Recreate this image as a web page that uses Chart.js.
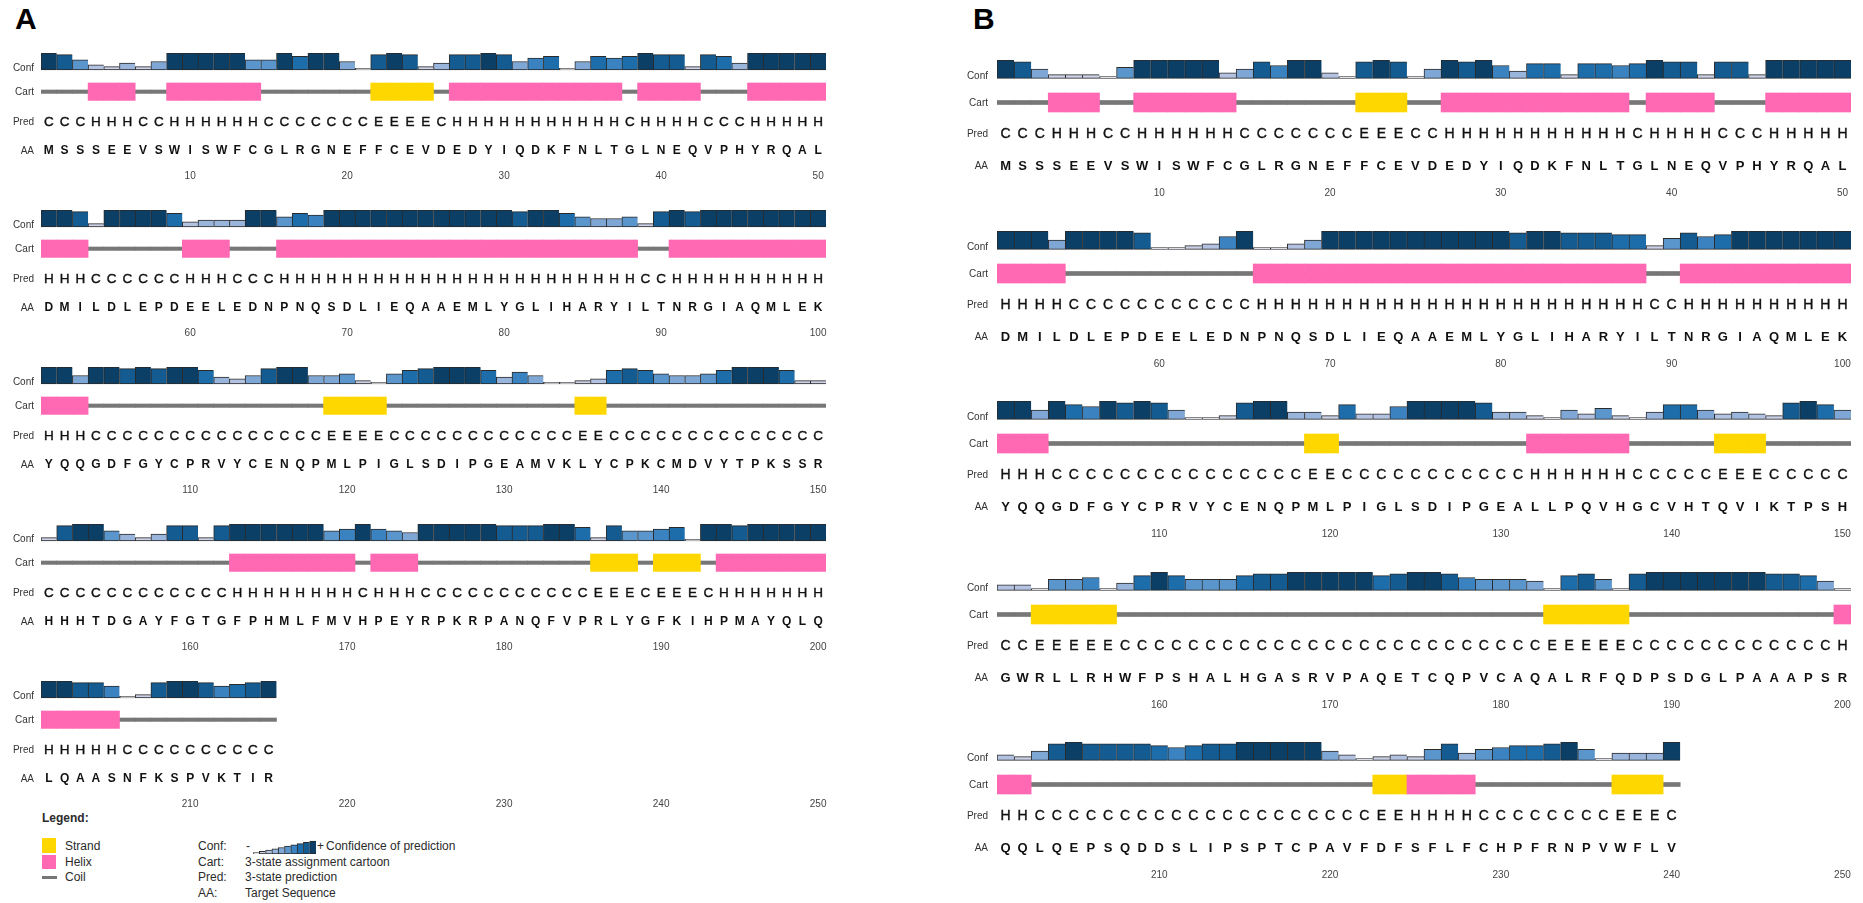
<!DOCTYPE html>
<html>
<head>
<meta charset="utf-8">
<script src="https://cdn.jsdelivr.net/npm/chart.js@4.4.1/dist/chart.umd.min.js"></script>
<style>
body { margin:0; background:#fff; }
#page { position:relative; width:1863px; height:903px; overflow:hidden; background:#fff;
  font-family:'Liberation Sans',Arial,sans-serif; color:#2b2b2b; }
.lab { position:absolute; white-space:nowrap; height:16px; line-height:16px; font-size:12px; }
.panel { position:absolute; font-family:'Liberation Sans',Arial,sans-serif; font-weight:bold;
  font-size:30px; line-height:30px; color:#000; }
.sw { position:absolute; }
</style>
</head>
<body>
<div id="page">
  <div class="panel" style="left:15px;top:4px">A</div>
  <div class="panel" style="left:973px;top:4px">B</div>

  <div class="lab" style="left:42px;top:810px;font-weight:bold">Legend:</div>
  <div class="sw" style="left:42px;top:838px;width:14px;height:15px;background:#ffd700"></div>
  <div class="sw" style="left:42px;top:855px;width:14px;height:14px;background:#ff69b4"></div>
  <div class="sw" style="left:42px;top:876px;width:15px;height:3px;background:#777"></div>
  <div class="lab" style="left:65px;top:838px">Strand</div>
  <div class="lab" style="left:65px;top:854px">Helix</div>
  <div class="lab" style="left:65px;top:869px">Coil</div>
  <div class="lab" style="left:198px;top:838px">Conf:</div>
  <div class="lab" style="left:198px;top:854px">Cart:</div>
  <div class="lab" style="left:198px;top:869px">Pred:</div>
  <div class="lab" style="left:198px;top:885px">AA:</div>
  <div class="lab" style="left:246px;top:838px">-</div>
  <div class="lab" style="left:317px;top:838px">+</div>
  <div class="lab" style="left:326px;top:838px">Confidence of prediction</div>
  <div class="lab" style="left:245px;top:854px">3-state assignment cartoon</div>
  <div class="lab" style="left:245px;top:869px">3-state prediction</div>
  <div class="lab" style="left:245px;top:885px">Target Sequence</div>
</div>
<script>
const aaA = [
  'MSSSEEVSWISWFCGLRGNEFFCEVDEDYIQDKFNLTGLNEQVPHYRQAL',
  'DMILDLEPDEELEDNPNQSDLIEQAAEMLYGLIHARYILTNRGIAQMLEK',
  'YQQGDFGYCPRVYCENQPMLPIGLSDIPGEAMVKLYCPKCMDVYTPKSSR',
  'HHHTDGAYFGTGFPHMLFMVHPEYRPKRPANQFVPRLYGFKIHPMAYQLQ',
  'LQAASNFKSPVKTIR'
];
const predA = [
  'CCCHHHCCHH' + 'HHHHCCCCCC' + 'CEEEECHHHH' + 'HHHHHHHCHH' + 'HHCCCHHHHH',
  'HHHCCCCCCH' + 'HHCCCHHHHH' + 'HHHHHHHHHH' + 'HHHHHHHHCC' + 'HHHHHHHHHH',
  'HHHCCCCCCC' + 'CCCCCCCCEE' + 'EECCCCCCCC' + 'CCCCEECCCC' + 'CCCCCCCCCC',
  'CCCCCCCCCC' + 'CCHHHHHHHH' + 'CHHHCCCCCC' + 'CCCCCEEECE' + 'EECHHHHHHH',
  'HHHHHCCCCC' + 'CCCCC'
];
const confA1 = [9,8,5,2,1,3,1,4,9,9, 9,9,9,5,5,9,7,9,9,4, 0,8,9,8,1,3,8,8,9,8, 4,6,7,0,4,7,6,7,9,8, 8,1,8,7,3,9,9,9,9,9];
const confA2 = [9,9,8,1,9,9,9,9,7,2, 3,3,3,9,9,5,7,6,9,9, 9,9,9,9,9,9,9,9,9,9, 8,9,9,7,5,4,4,5,1,8, 9,8,9,9,9,9,9,9,9,9];
const confA3 = [9,9,4,9,9,8,9,8,9,9, 7,3,2,4,8,9,9,4,4,5, 1,0,5,7,8,9,9,9,7,3, 6,4,0,0,1,2,7,8,7,5, 4,4,5,7,9,9,9,7,1,1];
const confA4 = [1,8,9,9,5,3,1,3,8,8, 1,8,9,9,9,9,9,9,5,6, 9,6,5,4,9,9,9,9,9,8, 8,8,9,9,7,1,8,5,5,6, 7,0,9,9,8,9,9,9,9,9];
const confA5 = [9,9,8,8,6,0,1,8,9,9, 8,6,7,8,9];

const aaB = [
  'MSSSEEVSWISWFCGLRGNEFFCEVDEDYIQDKFNLTGLNEQVPHYRQAL',
  'DMILDLEPDEELEDNPNQSDLIEQAAEMLYGLIHARYILTNRGIAQMLEK',
  'YQQGDFGYCPRVYCENQPMLPIGLSDIPGEALLPQVHGCVHTQVIKTPSH',
  'GWRLLRHWFPSHALHGASRVPAQETCQPVCAQALRFQDPSDGLPAAAPSR',
  'QQLQEPSQDDSLIPSPTCPAVFDFSFLFCHPFRNPVWFLV'
];
const predB = [
  'CCCHHHCCHH' + 'HHHHCCCCCC' + 'CEEECCHHHH' + 'HHHHHHHCHH' + 'HHCCCHHHHH',
  'HHHHCCCCCC' + 'CCCCCHHHHH' + 'HHHHHHHHHH' + 'HHHHHHHHCC' + 'HHHHHHHHHH',
  'HHHCCCCCCC' + 'CCCCCCCCEE' + 'CCCCCCCCCC' + 'CHHHHHHCCC' + 'CCEEECCCCC',
  'CCEEEEECCC' + 'CCCCCCCCCC' + 'CCCCCCCCCC' + 'CCEEEEECCC' + 'CCCCCCCCCH',
  'HHCCCCCCCC' + 'CCCCCCCCCC' + 'CCEEHHHHCC' + 'CCCCCCEEEC'
];
const confB1 = [9,8,4,1,1,1,0,5,9,9, 9,9,9,2,4,8,6,9,9,2, 0,8,9,8,0,4,9,8,9,6, 3,7,7,1,7,7,6,7,9,8, 8,1,8,8,1,9,9,9,9,9];
const confB2 = [9,9,9,4,9,9,9,9,8,0, 0,1,2,6,9,0,0,2,4,9, 9,9,9,9,9,9,9,9,9,9, 8,9,9,8,8,8,7,7,1,5, 8,6,7,9,9,9,9,9,9,9];
const confB3 = [9,9,4,9,7,6,9,8,9,8, 4,0,0,1,8,9,9,3,3,1, 7,2,2,6,9,9,9,9,8,3, 3,1,0,4,2,5,1,0,3,7, 7,4,2,3,2,1,8,9,7,4];
const confB4 = [2,2,0,5,5,6,0,3,7,9, 7,5,5,5,7,8,8,9,9,9, 9,9,7,8,9,9,8,6,5,5, 5,4,0,7,8,5,0,8,9,9, 9,9,9,9,9,8,8,7,4,0];
const confB5 = [2,1,4,8,9,8,8,8,8,7, 6,7,8,8,9,9,9,9,9,4, 2,0,1,2,1,5,8,3,5,6, 7,7,8,9,5,0,3,3,3,9];

const confLevels = [0,1,2,3,4,5,6,7,8,9];
const confColors = ['#e6e7f0','#cbd1e6','#b3c2e1','#99b5dc','#7ea7d5','#5a95cb','#3a83c0','#1d6dab','#135b90','#0b3f66'];

const FONT = "'Liberation Sans Narrow','Liberation Sans',Arial,sans-serif";
const LETTERS = "'Liberation Sans',Arial,sans-serif";

// géométrie des deux panneaux (en pixels)
const geoA = { left:0, width:840, padL:41, padR:14, tops:[53,210,367,524,681],
  Hc:112, axH:20, tickPad:5, confBase:17, unit:1.7, cartY:38.7, cartHalf:8.7, coilHalf:1.7,
  predY:68.7, aaY:97, labGap:7, predFont:'13.5px '+LETTERS, aaFont:'bold 12px '+LETTERS };
const geoB = { left:960, width:903, padL:37, padR:12, tops:[60,231,401,572,742],
  Hc:120, axH:22, tickPad:7, confBase:18.3, unit:1.83, cartY:42.5, cartHalf:9.5, coilHalf:2,
  predY:73, aaY:105, labGap:9, predFont:'14px '+LETTERS, aaFont:'bold 13px '+LETTERS };

const seqText = {
  id: 'seqText',
  afterDatasetsDraw(chart, args, o) {
    const ctx = chart.ctx, x = chart.scales.x, y = chart.scales.y;
    ctx.save();
    ctx.textAlign = 'center';
    ctx.textBaseline = 'middle';
    ctx.fillStyle = '#111';
    ctx.strokeStyle = '#111';
    ctx.lineWidth = 0.4;
    ctx.font = o.predFont;
    o.pred.split('').forEach((c, i) => {
      const px = x.getPixelForValue(i), py = y.getPixelForValue(o.predY) + 1;
      ctx.fillText(c, px, py);
      ctx.strokeText(c, px, py);
    });
    ctx.font = o.aaFont;
    o.aa.split('').forEach((c, i) => ctx.fillText(c, x.getPixelForValue(i), y.getPixelForValue(o.aaY) + 1));
    ctx.textAlign = 'right';
    ctx.fillStyle = '#333';
    ctx.font = '10px ' + FONT;
    const lx = chart.chartArea.left - o.labGap;
    [['Conf', o.confBase - 3], ['Cart', o.cartY], ['Pred', o.predY], ['AA', o.aaY]].forEach(l => {
      ctx.fillText(l[0], lx, y.getPixelForValue(l[1]) + 1);
    });
    ctx.restore();
  }
};

function drawRow(geo, r, aa, pred, conf) {
  const labels = [];
  for (let i = 1; i <= 50; i++) labels.push(r * 50 + i);
  const top = geo.tops[r] - 3;
  const h = 3 + geo.Hc + geo.axH;
  const cv = document.createElement('canvas');
  cv.width = geo.width; cv.height = h;
  cv.style.cssText = 'position:absolute;left:' + geo.left + 'px;top:' + top + 'px;width:' + geo.width + 'px;height:' + h + 'px';
  document.getElementById('page').appendChild(cv);

  const p = pred.split('');
  const cart = [geo.cartY - geo.cartHalf, geo.cartY + geo.cartHalf];
  const bar = { barPercentage:1, categoryPercentage:1, grouped:false, yAxisID:'y' };

  new Chart(cv, {
    type: 'bar',
    data: {
      labels: labels,
      datasets: [
        { data: conf, yAxisID:'yc', base:-1, backgroundColor: conf.map(c => confColors[c]),
          borderColor:'#2a2a2a', borderWidth:{top:1, bottom:1, left:1, right:0}, borderSkipped:false, order:1,
          barPercentage:1, categoryPercentage:1, grouped:false },
        Object.assign({ data: p.map(() => [geo.cartY - geo.coilHalf, geo.cartY + geo.coilHalf]),
          backgroundColor:'#777777', order:3 }, bar),
        Object.assign({ data: p.map(c => c === 'H' ? cart : null), backgroundColor:'#ff69b4', order:2 }, bar),
        Object.assign({ data: p.map(c => c === 'E' ? cart : null), backgroundColor:'#ffd700', order:2 }, bar)
      ]
    },
    options: {
      responsive:false, animation:false, events:[],
      layout: { padding: { left:geo.padL, right:geo.padR, top:3, bottom:0 } },
      plugins: {
        legend: { display:false }, tooltip: { enabled:false },
        seqText: { pred:pred, aa:aa, predY:geo.predY, aaY:geo.aaY, cartY:geo.cartY, confBase:geo.confBase,
          labGap:geo.labGap, predFont:geo.predFont, aaFont:geo.aaFont }
      },
      scales: {
        x: {
          grid: { display:false, drawTicks:false }, border: { display:false },
          ticks: { autoSkip:false, maxRotation:0, padding:geo.tickPad, color:'#444',
            font: { family:FONT, size:10 },
            callback: function (v) { const n = this.getLabelForValue(v); return n % 10 === 0 ? String(n) : ''; } },
          afterFit: s => { s.height = geo.axH; }
        },
        y: { display:false, reverse:true, min:0, max:geo.Hc },
        yc: { display:false, min: -1 - (geo.Hc - geo.confBase) / geo.unit, max: -1 + geo.confBase / geo.unit }
      }
    },
    plugins: [seqText]
  });
}

const confAll = [confA1, confA2, confA3, confA4, confA5];
const confAllB = [confB1, confB2, confB3, confB4, confB5];
for (let r = 0; r < 5; r++) drawRow(geoA, r, aaA[r], predA[r], confAll[r]);
for (let r = 0; r < 5; r++) drawRow(geoB, r, aaB[r], predB[r], confAllB[r]);

// petite échelle de confiance de la légende
const lg = document.createElement('canvas');
lg.width = 63; lg.height = 15;
lg.style.cssText = 'position:absolute;left:253px;top:839px;width:63px;height:15px';
document.getElementById('page').appendChild(lg);
new Chart(lg, {
  type: 'bar',
  data: { labels: confLevels, datasets: [{ data: confLevels, base:-1,
    backgroundColor: confLevels.map(c => confColors[c]), borderColor:'#2a2a2a',
    borderWidth:{top:1, bottom:1, left:1, right:0}, borderSkipped:false,
    barPercentage:1, categoryPercentage:1 }] },
  options: { responsive:false, animation:false, events:[],
    plugins: { legend:{display:false}, tooltip:{enabled:false} },
    scales: { x:{display:false}, y:{display:false, min:-1, max:10.5} } }
});
</script>
</body>
</html>
